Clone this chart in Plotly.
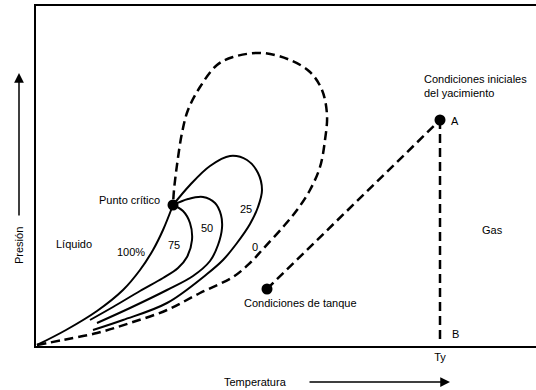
import plotly.graph_objects as go

# Phase envelope (bubble + dew) of a gas reservoir fluid, arbitrary P-T units
dew_T = [1, 27, 61, 94, 131, 164, 197, 214, 227, 247, 261, 274, 284, 289, 291, 286, 274, 254, 226, 197, 181, 164, 152, 146, 141, 138, 137]
dew_P = [1, 6, 13, 23, 36, 53, 69, 83, 97, 119, 136, 156, 179, 206, 231, 256, 274, 286, 293, 289, 281, 259, 236, 213, 181, 156, 141]

q100_T = [1, 30, 61, 87, 104, 117, 127, 137]
q100_P = [1, 16, 35, 56, 76, 96, 116, 141]

q75_T = [54, 77, 104, 127, 142, 151, 156, 154, 147, 137]
q75_P = [26, 39, 55, 68, 78, 89, 106, 123, 135, 141]

q50_T = [61, 94, 131, 157, 174, 182, 186, 185, 179, 167, 152, 137]
q50_P = [23, 38, 56, 70, 85, 101, 118, 131, 143, 149, 147, 141]

q25_T = [57, 87, 131, 171, 187, 201, 214, 222, 226, 222, 211, 194, 174, 154, 137]
q25_P = [16, 26, 43, 72, 86, 103, 122, 139, 156, 173, 186, 190, 180, 161, 141]

critical_point = (137, 141)
tank_point = (231, 57)
initial_point = (404, 226)
reservoir_T = 404
bottom_P = 4

font = dict(family="Liberation Sans, Arial, sans-serif", size=11, color="black")

fig = go.Figure()

dash_style = dict(color="black", width=2.5, dash="9px,5px")
solid_style = dict(color="black", width=2)

fig.add_trace(go.Scatter(x=dew_T, y=dew_P, mode="lines", line=dash_style, line_shape="spline"))
for qt, qp in [(q100_T, q100_P), (q75_T, q75_P), (q50_T, q50_P), (q25_T, q25_P)]:
    fig.add_trace(go.Scatter(x=qt, y=qp, mode="lines", line=solid_style, line_shape="spline"))

# Production path: reservoir to tank, and isothermal depletion A -> B
fig.add_trace(go.Scatter(x=[tank_point[0], initial_point[0]], y=[tank_point[1], initial_point[1]],
                         mode="lines", line=dash_style))
fig.add_trace(go.Scatter(x=[reservoir_T, reservoir_T], y=[initial_point[1], bottom_P],
                         mode="lines", line=dash_style))

fig.add_trace(go.Scatter(
    x=[critical_point[0], tank_point[0], initial_point[0]],
    y=[critical_point[1], tank_point[1], initial_point[1]],
    mode="markers", marker=dict(size=11, color="black")))

labels = [
    (126, 146, "Punto crítico", "right"),
    (38, 102, "Líquido", "center"),
    (95, 94, "100%", "center"),
    (138, 101, "75", "center"),
    (171, 118, "50", "center"),
    (210, 137, "25", "center"),
    (219, 99, "0", "center"),
    (264, 43, "Condiciones de tanque", "center"),
    (419, 225, "A", "center"),
    (419, 12, "B", "center"),
    (456, 116, "Gas", "center"),
]
for x, y, txt, anchor in labels:
    fig.add_annotation(x=x, y=y, text=txt, showarrow=False, xanchor=anchor, font=font)

fig.add_annotation(x=386, y=260, text="Condiciones iniciales<br>del yacimiento", showarrow=False,
                   xanchor="left", align="left", font=font)

# Axis titles with direction arrows
fig.add_annotation(xref="paper", yref="paper", x=0.438, y=-0.106, text="Temperatura",
                   xanchor="center", yanchor="middle", showarrow=False, font=font)
fig.add_annotation(xref="paper", yref="paper", x=0.828, y=-0.106, text="", showarrow=True,
                   ax=-142, ay=0, arrowhead=2, arrowsize=1.3, arrowwidth=1.5, arrowcolor="black")
fig.add_annotation(xref="paper", yref="paper", x=-0.034, y=0.294, text="Presión", textangle=-90,
                   xanchor="center", yanchor="middle", showarrow=False, font=font)
fig.add_annotation(xref="paper", yref="paper", x=-0.034, y=0.803, text="", showarrow=True,
                   ax=0, ay=144, arrowhead=2, arrowsize=1.3, arrowwidth=1.5, arrowcolor="black")

fig.update_layout(
    width=536, height=390,
    margin=dict(l=36, r=0, t=6, b=44),
    paper_bgcolor="white", plot_bgcolor="white",
    showlegend=False,
    font=font,
    xaxis=dict(range=[0, 500], showgrid=False, zeroline=False, showline=True, mirror=True,
               linecolor="black", linewidth=2, ticks="", tickvals=[reservoir_T], ticktext=["Ty"],
               tickfont=font),
    yaxis=dict(range=[0, 340], showgrid=False, zeroline=False, showline=True,
               linecolor="black", linewidth=2, showticklabels=False, ticks=""),
)

fig.write_html("out.html")
